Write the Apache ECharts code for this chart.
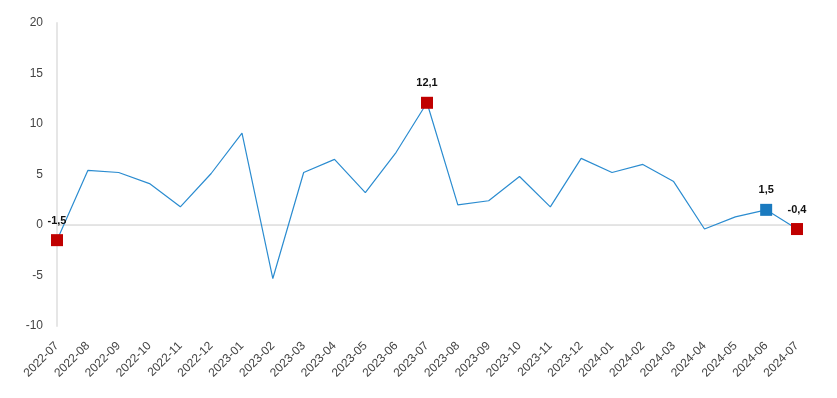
<!DOCTYPE html>
<html><head><meta charset="utf-8">
<script src="https://cdn.jsdelivr.net/npm/echarts@6/dist/echarts.min.js"></script>
<style>html,body{margin:0;padding:0;background:#fff}#c{width:837px;height:398px}</style>
</head><body><div id="c"></div>
<script>
const categories = ['2022-07','2022-08','2022-09','2022-10','2022-11','2022-12','2023-01','2023-02','2023-03','2023-04','2023-05','2023-06','2023-07','2023-08','2023-09','2023-10','2023-11','2023-12','2024-01','2024-02','2024-03','2024-04','2024-05','2024-06','2024-07'];
const values = [-1.5,5.4,5.2,4.1,1.8,5.1,9.1,-5.3,5.2,6.5,3.2,7.2,12.1,2.0,2.4,4.8,1.8,6.6,5.2,6.0,4.3,-0.4,0.8,1.5,-0.4];
const redPoints = ['2022-07','2023-07','2024-07'];
const bluePoints = ['2024-06'];
const yTicks = [-10,-5,0,5,10,15,20];

const RED = '#c00000', BLUE = '#1a7abf', LINE = '#2b8cd0';
const FONT = 'Liberation Sans, Arial, sans-serif';
const data = values.map((v, i) => {
  const c = categories[i];
  const isRed = redPoints.includes(c), isBlue = bluePoints.includes(c);
  if (!isRed && !isBlue) return { value: v, symbolSize: 0, label: { show: false } };
  return {
    value: v,
    symbol: 'rect',
    symbolSize: 12,
    itemStyle: { color: isRed ? RED : BLUE },
    label: { show: true, position: 'top', distance: 8, formatter: p => String(p.value).replace('.', ','), color: '#111', fontWeight: 'bold', fontSize: 11, fontFamily: FONT }
  };
});

const chart = echarts.init(document.getElementById('c'));
chart.setOption({
  animation: false,
  grid: { left: 57, right: 40, top: 23, bottom: 72 },
  xAxis: {
    type: 'category', data: categories, boundaryGap: false,
    axisLine: { lineStyle: { color: '#e6e6e6', width: 2 } },
    axisTick: { show: false },
    axisLabel: { rotate: 45, color: '#444', fontSize: 12, margin: 18, interval: 0, fontFamily: FONT }
  },
  yAxis: {
    type: 'value', min: yTicks[0], max: yTicks[yTicks.length - 1], interval: 5,
    axisLine: { show: true, lineStyle: { color: '#e6e6e6', width: 2 } },
    axisTick: { show: false },
    splitLine: { show: false },
    axisLabel: { color: '#444', fontSize: 12, margin: 14, fontFamily: FONT }
  },
  series: [{
    type: 'line', data: data, showSymbol: true, symbol: 'rect',
    lineStyle: { color: LINE, width: 1.2 },
    itemStyle: { color: LINE },
    z: 3,
    markLine: {
      silent: true, symbol: 'none', label: { show: false }, z: 1,
      lineStyle: { color: '#e3e3e3', type: 'solid', width: 1 },
      data: [{ yAxis: 0 }]
    }
  }]
});
</script></body></html>
